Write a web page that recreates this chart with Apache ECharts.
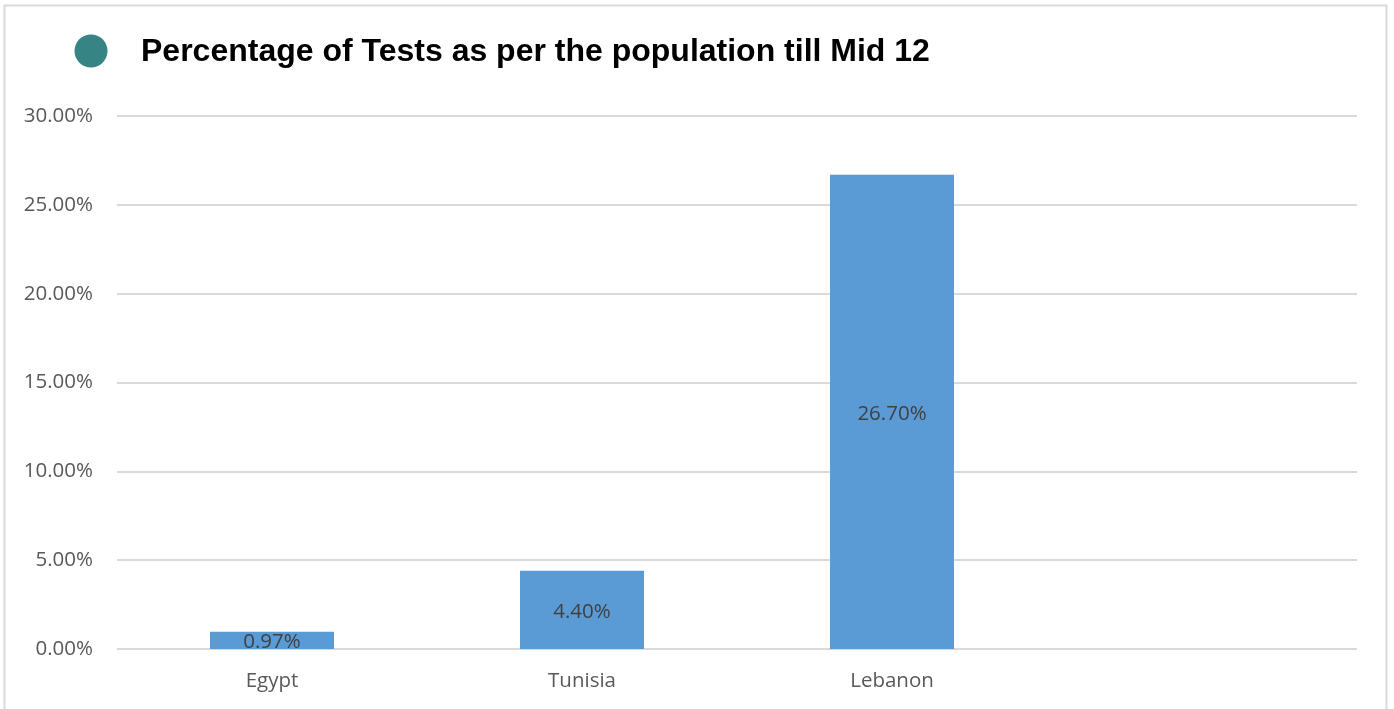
<!DOCTYPE html>
<html>
<head>
<meta charset="utf-8">
<script src="https://cdn.jsdelivr.net/npm/echarts@6/dist/echarts.min.js"></script>
<style>
  html, body { margin: 0; padding: 0; background: #fff; }
  #chart { width: 1394px; height: 709px; }
</style>
</head>
<body>
<div id="chart"></div>
<script>
  // data
  var countries = ['Egypt', 'Tunisia', 'Lebanon', ''];
  var testShare = [0.97, 4.40, 26.70, null];
  var yTicks = { min: 0, max: 30, step: 5 };

  var chart = echarts.init(document.getElementById('chart'));

  var option = {
    backgroundColor: '#ffffff',
    animation: false,
    title: {
      text: 'Percentage of Tests as per the population till Mid 12',
      left: 136,
      top: 31,
      textStyle: {
        fontFamily: 'Liberation Sans',
        fontWeight: 'bold',
        fontSize: 32,
        color: '#000000'
      }
    },
    graphic: [
      {
        type: 'rect',
        shape: { x: 4.5, y: 5.5, width: 1382, height: 720 },
        style: { fill: 'none', stroke: '#d9d9d9', lineWidth: 2 },
        silent: true
      },
      {
        type: 'circle',
        shape: { cx: 91, cy: 51, r: 16.5 },
        style: { fill: '#368483' },
        silent: true
      }
    ],
    grid: { left: 117, right: 37, top: 116, bottom: 60 },
    xAxis: {
      type: 'category',
      data: countries,
      axisLine: { show: false },
      axisTick: { show: false },
      axisLabel: {
        margin: 22,
        fontFamily: 'Open Sans',
        fontSize: 20.5,
        color: '#595959'
      }
    },
    yAxis: {
      type: 'value',
      min: yTicks.min,
      max: yTicks.max,
      interval: yTicks.step,
      axisLine: { show: false },
      axisTick: { show: false },
      splitLine: { lineStyle: { color: '#d9d9d9', width: 2 } },
      axisLabel: {
        margin: 24,
        fontFamily: 'Open Sans',
        fontSize: 20.5,
        color: '#595959',
        formatter: function (v) { return v.toFixed(2) + '%'; }
      }
    },
    series: [{
      type: 'bar',
      data: testShare,
      barWidth: '40%',
      itemStyle: { color: '#5b9bd5' },
      label: {
        show: true,
        position: 'inside',
        offset: [0, 2],
        fontFamily: 'Open Sans',
        fontSize: 20.5,
        color: '#404040',
        formatter: function (p) { return p.value.toFixed(2) + '%'; }
      }
    }]
  };

  chart.setOption(option);
</script>
</body>
</html>
